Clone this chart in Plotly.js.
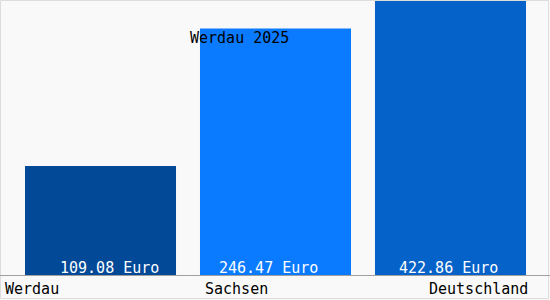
<!DOCTYPE html>
<html>
<head>
<meta charset="utf-8">
<script src="https://cdn.plot.ly/plotly-3.0.1.min.js"></script>
<style>
html,body{margin:0;padding:0;background:#f9f9f9;}
#chart{width:550px;height:300px;}
</style>
</head>
<body>
<div id="chart"></div>
<script>
var categories = ["Werdau", "Sachsen", "Deutschland"];
var values = [109.08, 246.47, 422.86];
var valueLabels = ["109.08 Euro", "246.47 Euro", "422.86 Euro"];
var chartTitle = "Werdau 2025";

var barColors = ["#024998", "#0a7bff", "#0562c8"];
var font = "DejaVu Sans Mono, monospace";

var valueShift = [8.5, -7, -2];
var catAnchor = ["left", "left", "right"];
var catShift = [-95.5, -70.5, 77.5];

var annotations = [];
for (var i = 0; i < categories.length; i++) {
  annotations.push({
    x: categories[i], y: 0, xref: "x", yref: "y",
    text: valueLabels[i], showarrow: false,
    xanchor: "center", yanchor: "bottom", xshift: valueShift[i], yshift: -2,
    borderpad: 0, borderwidth: 0,
    font: {family: font, size: 15, color: "#ffffff"}
  });
  annotations.push({
    x: categories[i], y: 0, xref: "x", yref: "y",
    text: categories[i], showarrow: false,
    xanchor: catAnchor[i], yanchor: "top", xshift: catShift[i], yshift: -5,
    borderpad: 0, borderwidth: 0,
    font: {family: font, size: 15, color: "#000000"}
  });
}

var trace = {
  type: "bar",
  x: categories,
  y: values,
  width: 0.863,
  marker: {color: barColors, line: {width: 0}},
  hoverinfo: "none"
};

var layout = {
  width: 550, height: 300,
  margin: {l: 0, r: 0, t: 1, b: 25, pad: 0},
  paper_bgcolor: "#f9f9f9",
  plot_bgcolor: "#f9f9f9",
  showlegend: false,
  title: {
    text: chartTitle, xref: "container", yref: "container",
    x: 190/550, xanchor: "left", y: 1 - 38/300, yanchor: "middle",
    font: {family: font, size: 15, color: "#000000"}
  },
  xaxis: {
    type: "category",
    range: [-0.5743, 2.5686],
    showticklabels: false, ticks: "",
    showgrid: false, zeroline: false,
    showline: true, linecolor: "#a0a0a0", linewidth: 1
  },
  yaxis: {
    range: [0, 274],
    showticklabels: false, ticks: "",
    showgrid: false, zeroline: false, showline: false
  },
  annotations: annotations,
  shapes: [{
    type: "rect", xref: "paper", yref: "paper",
    x0: 0.5/550, x1: 548.5/550, y0: (275 - 298.5)/274, y1: (275 - 0.5)/274,
    line: {color: "#dddddd", width: 1}, fillcolor: "rgba(0,0,0,0)", layer: "below"
  }]
};

Plotly.newPlot("chart", [trace], layout, {displayModeBar: false, staticPlot: true});
</script>
</body>
</html>
